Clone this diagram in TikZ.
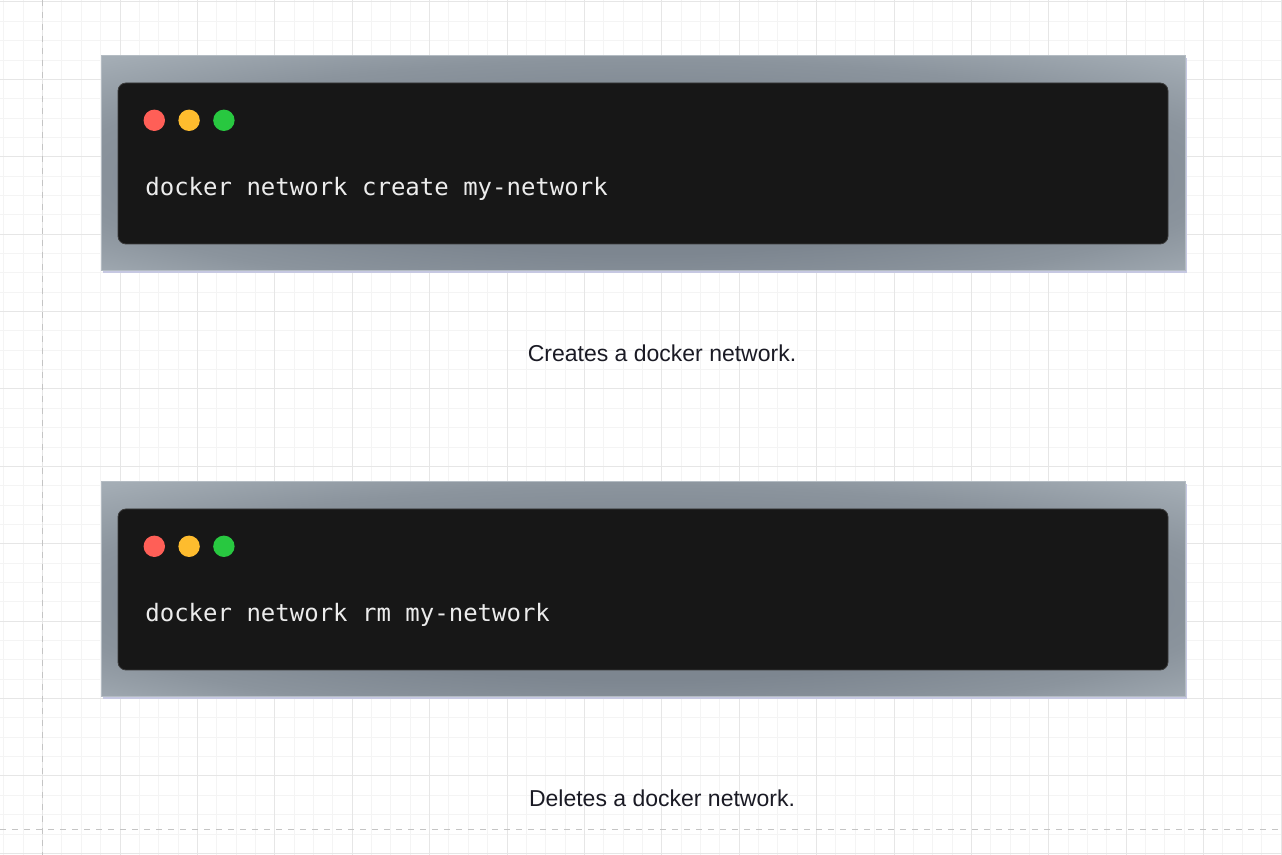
\documentclass[tikz,border=0pt]{standalone}
\usepackage{fontspec}
\setmainfont{Liberation Sans}
\setmonofont{DejaVu Sans Mono}
\usetikzlibrary{positioning,shadows}
\definecolor{gridmin}{HTML}{F4F4F4}
\definecolor{gridmaj}{HTML}{E6E6E6}
\definecolor{guide}{HTML}{C4C4C4}
\definecolor{frdark}{HTML}{7D8690}
\definecolor{frmid}{HTML}{8B949D}
\definecolor{frlight}{HTML}{A4ADB5}
\definecolor{frline}{HTML}{B4BCC3}
\definecolor{termbg}{HTML}{171717}
\definecolor{termtx}{HTML}{ECECEC}
\definecolor{dotred}{HTML}{FF5F57}
\definecolor{dotyel}{HTML}{FEBC2E}
\definecolor{dotgrn}{HTML}{28C840}
\definecolor{captx}{HTML}{1A1A24}
\definecolor{boxsh}{HTML}{C6C8E2}
\pgfdeclareradialshading{framesh}{\pgfpoint{0bp}{-6bp}}{color(0bp)=(frdark);
  color(17bp)=(frdark); color(27bp)=(frmid); color(36bp)=(frlight);
  color(50bp)=(frlight)}
\tikzset{
  term_o/.style = {rectangle, inner sep=0pt, shading=framesh, draw=frline,
    line width=0.5pt, minimum width=542pt, minimum height=107.5pt,
    drop shadow={shadow xshift=1.2pt, shadow yshift=-1.2pt, fill=boxsh,
      opacity=1}},% cadre exterieur
  term_i/.style = {rectangle, rounded corners=4pt, inner sep=0pt,
    fill=termbg, draw=termbg!85!white, line width=0.4pt,
    minimum width=525pt, minimum height=80.5pt},% fenetre du terminal
  term_d/.style = {circle, inner sep=0pt, minimum size=10.7pt},
  dot_r/.style = {term_d, fill=dotred},
  dot_y/.style = {term_d, fill=dotyel},
  dot_g/.style = {term_d, fill=dotgrn},
  cmd_t/.style = {anchor=base west, inner sep=0pt, text=termtx,
    font=\ttfamily\fontsize{12}{14}\selectfont},
  cap_t/.style = {anchor=base, inner sep=0pt, text=captx,
    font=\fontsize{11.5}{14}\selectfont}
}

\begin{document}
\begin{tikzpicture}[x=0.5pt, y=-0.5pt]
\useasboundingbox (0,0) rectangle (1282,855);
\fill[white] (0,0) rectangle (1282,855);
% grille
\foreach \i in {-3,...,64}
    \draw[gridmin, line width=0.5pt] (42.6+\i*19.35,0) -- (42.6+\i*19.35,855);
\foreach \j in {0,...,44}
    \draw[gridmin, line width=0.5pt] (0,2+\j*19.35) -- (1282,2+\j*19.35);
\foreach \i in {-1,...,16}
    \draw[gridmaj, line width=0.5pt] (42.6+\i*77.4,0) -- (42.6+\i*77.4,855);
\foreach \j in {0,...,11}
    \draw[gridmaj, line width=0.5pt] (0,2+\j*77.4) -- (1282,2+\j*77.4);
\draw[guide, dashed, line width=0.5pt] (42,0) -- (42,855);
\draw[guide, dashed, line width=0.5pt] (0,830) -- (1282,830);
%
% (a) create
\node (CO) [term_o] at (643,163.5) {};
\node (CI) [term_i] at (643,163.5) {};
\node (CR) [dot_r] at (154.3,120.3) {};
\node (CY) [dot_y, right=6.3pt of CR] {};
\node (CG) [dot_g, right=6.3pt of CY] {};
\node (CT) [cmd_t] at (145,196) {docker network create my-network};
%
\node (CL) [cap_t] at (662,362) {Creates a docker network.};
%
% (b) rm
\node (RO) [term_o] at (643,589.5) {};
\node (RI) [term_i] at (643,589.5) {};
\node (RR) [dot_r] at (154.3,546.3) {};
\node (RY) [dot_y, right=6.3pt of RR] {};
\node (RG) [dot_g, right=6.3pt of RY] {};
\node (RT) [cmd_t] at (145,622) {docker network rm my-network};
%
\node (RL) [cap_t] at (662,807) {Deletes a docker network.};
\end{tikzpicture}
\end{document}
